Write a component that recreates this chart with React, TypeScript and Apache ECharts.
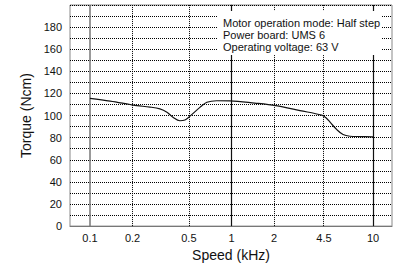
import React, { useEffect, useRef } from "react";
import * as echarts from "echarts";

const speedKHz = [0.1, 0.139, 0.192, 0.215, 0.265, 0.312, 0.35, 0.386, 0.432, 0.469, 0.509, 0.598, 0.67, 0.787, 0.976, 1.46, 2.06, 3.05, 4.34, 4.65, 4.97, 5.57, 6.14, 6.87, 8.09, 10];
const torqueNcm = [115.6, 113, 110, 109, 107.7, 106, 103, 98.5, 95.3, 96, 99.5, 107.4, 112, 113.4, 113.3, 111.3, 109, 104.5, 100.4, 98, 94, 87, 82.8, 81.3, 81, 80.8];

const xTickLabels = [0.1, 0.2, 0.5, 1, 2, 4.5, 10];
const xSolidLines = [1, 10];
const xGrayLines = [0.1];
const xDottedLines = [0.2, 0.5, 2, 4.5];

const noteLines = [
  "Motor operation mode: Half step",
  "Power board: UMS 6",
  "Operating voltage: 63 V",
];

const FONT = "Liberation Sans, Arial, Helvetica, sans-serif";

export default function App() {
  const ref = useRef<HTMLDivElement>(null);
  useEffect(() => {
    if (!ref.current) return;
    const chart = echarts.init(ref.current, undefined, { renderer: "svg" });
    const lg = (v: number) => Math.log10(v);
    const markData: any[] = [];
    xGrayLines.forEach((v) =>
      markData.push({ xAxis: lg(v), lineStyle: { color: "#777", width: 1.5, type: "solid" } })
    );
    xSolidLines.forEach((v) =>
      markData.push({ xAxis: lg(v), lineStyle: { color: "#111", width: 1.2, type: "solid" } })
    );
    xDottedLines.forEach((v) =>
      markData.push({ xAxis: lg(v), lineStyle: { color: "#000", width: 1, type: [1, 1] } })
    );
    chart.setOption({
      animation: false,
      textStyle: { fontFamily: FONT },
      grid: {
        left: 70,
        right: 3,
        top: 5,
        bottom: 40,
        show: true,
        borderColor: "#888",
        borderWidth: 1,
      },
      xAxis: {
        type: "value",
        min: -1.141,
        max: 1.134,
        name: "Speed (kHz)",
        nameLocation: "middle",
        nameGap: 20,
        nameTextStyle: { fontSize: 14, color: "#111", fontFamily: FONT },
        axisLine: { show: true, lineStyle: { color: "#777", width: 1 } },
        axisTick: { show: false },
        splitLine: { show: false },
        axisLabel: {
          customValues: xTickLabels.map(lg),
          fontSize: 11,
          color: "#111",
          margin: 6,
          fontFamily: FONT,
          formatter: (v: number) => {
            const r = Math.pow(10, v);
            const found = xTickLabels.find((t) => Math.abs(t - r) < 1e-6 * Math.max(1, t));
            return found !== undefined ? String(found) : "";
          },
        },
      },
      yAxis: {
        type: "value",
        min: 0,
        max: 200,
        interval: 10,
        name: "Torque (Ncm)",
        nameLocation: "middle",
        nameGap: 35,
        nameTextStyle: { fontSize: 14, color: "#111", fontFamily: FONT },
        axisLine: { show: true, lineStyle: { color: "#777", width: 1 } },
        axisTick: { show: false },
        axisLabel: {
          fontSize: 11,
          color: "#111",
          margin: 8,
          fontFamily: FONT,
          formatter: (v: number) => (v % 20 === 0 && v < 200 ? String(v) : ""),
        },
        splitLine: { show: true, lineStyle: { color: "#000", width: 1, type: [1, 1] } },
      },
      series: [
        {
          type: "line",
          data: speedKHz.map((s, i) => [lg(s), torqueNcm[i]]),
          smooth: 0.35,
          showSymbol: false,
          symbol: "none",
          lineStyle: { color: "#111", width: 1.2 },
          z: 5,
          markLine: {
            silent: true,
            symbol: ["none", "none"],
            label: { show: false },
            data: markData,
            z: 3,
          },
        },
      ],
      graphic: [
        {
          type: "rect",
          shape: { x: 217, y: 11, width: 165, height: 44 },
          style: { fill: "#fff" },
          z: 100,
        },
        ...noteLines.map((t, i) => ({
          type: "text",
          x: 223,
          y: 22.7 + i * 12,
          z: 101,
          style: {
            text: t,
            fontSize: 11,
            fontFamily: FONT,
            fill: "#111",
            verticalAlign: "middle",
            align: "left",
          },
        })),
      ],
    });
    return () => chart.dispose();
  }, []);
  return (
    <div
      ref={ref}
      style={{ position: "fixed", left: 0, top: 0, width: 395, height: 267, background: "#fff" }}
    />
  );
}
